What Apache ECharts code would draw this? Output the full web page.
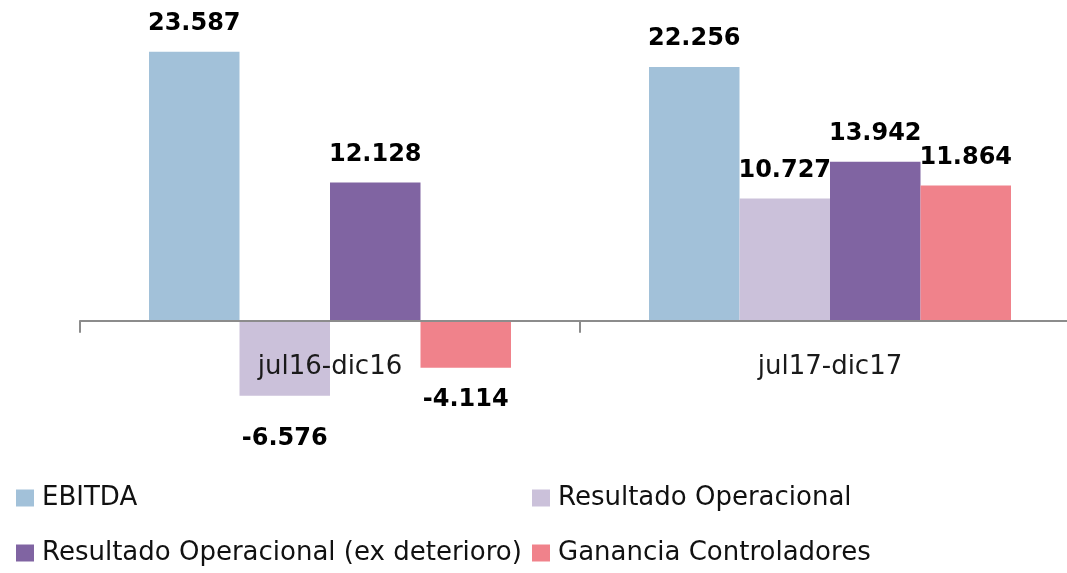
<!DOCTYPE html>
<html>
<head>
<meta charset="utf-8">
<script src="https://cdn.jsdelivr.net/npm/echarts@6/dist/echarts.min.js"></script>
<style>
  html, body { margin: 0; padding: 0; background: #fff; }
  #chart { width: 1067px; height: 573px; }
</style>
</head>
<body>
<div id="chart"></div>
<script>
const categories = ['jul16-dic16', 'jul17-dic17']
const seriesNames = ['EBITDA', 'Resultado Operacional', 'Resultado Operacional (ex deterioro)', 'Ganancia Controladores']
const ebitda = [23.587, 22.256]
const resOperacional = [-6.576, 10.727]
const resOperacionalEx = [12.128, 13.942]
const gananciaControladores = [-4.114, 11.864]
const colors = ['#A2C1D9', '#CBC1DA', '#8064A2', '#F0828B']

const font = 'DejaVu Sans'
const allValues = [ebitda, resOperacional, resOperacionalEx, gananciaControladores]

function fmt(v) {
  return v.toFixed(3)
}

function buildData(values) {
  return values.map(v => {
    if (v >= 0) return v
    // negative bars: label below the bar end
    return { value: v, label: { position: 'bottom', distance: v < -5 ? 31 : 20 } }
  })
}

function legendCol(left, names) {
  return {
    orient: 'vertical', left: left, top: 483, height: 90, padding: 0,
    itemGap: 25, itemWidth: 18, itemHeight: 17, icon: 'rect',
    data: names,
    textStyle: { fontFamily: font, fontSize: 26, color: '#111', lineHeight: 30, padding: [0, 0, 0, 3] }
  }
}

const chart = echarts.init(document.getElementById('chart'))
chart.setOption({
  animation: false,
  backgroundColor: '#fff',
  grid: { left: 80, width: 1000, top: 47, height: 365, outerBoundsMode: 'none' },
  legend: [
    legendCol(16, [seriesNames[0], seriesNames[2]]),
    legendCol(532, [seriesNames[1], seriesNames[3]])
  ],
  xAxis: {
    type: 'category',
    data: categories,
    z: 10,
    axisLine: { onZero: true, lineStyle: { color: '#8c8c8c', width: 2 } },
    axisTick: { show: true, length: 12, lineStyle: { color: '#8c8c8c', width: 2 } },
    axisLabel: { margin: -58, fontFamily: font, fontSize: 26, color: '#1a1a1a' }
  },
  yAxis: {
    type: 'value',
    min: -8,
    max: 24,
    show: false,
    splitLine: { show: false }
  },
  series: allValues.map((vals, i) => ({
    name: seriesNames[i],
    type: 'bar',
    barGap: 0,
    barCategoryGap: '27.6%',
    itemStyle: { color: colors[i] },
    label: {
      show: true,
      position: 'top',
      distance: 16,
      fontFamily: font,
      fontWeight: 'bold',
      fontSize: 24,
      color: '#000',
      formatter: p => fmt(p.value)
    },
    data: buildData(vals)
  }))
})
</script>
</body>
</html>
